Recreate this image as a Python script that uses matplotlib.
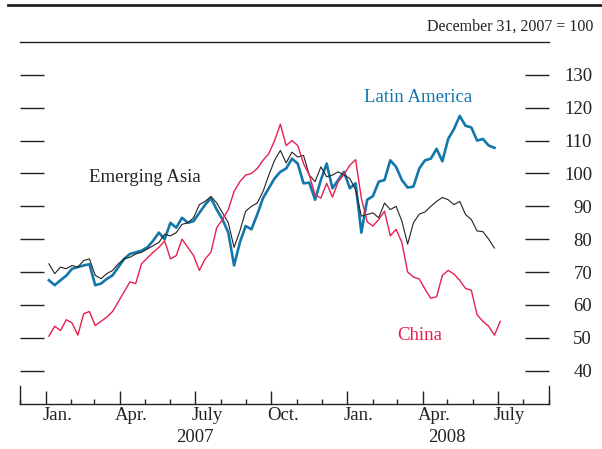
import matplotlib
matplotlib.use('Agg')
import matplotlib.pyplot as plt
import matplotlib.dates as mdates
import pandas as pd
from matplotlib.lines import Line2D
from matplotlib.transforms import blended_transform_factory

plt.rcParams['font.family'] = ['Liberation Serif', 'DejaVu Serif']

# weekly readings, index Dec 31, 2007 = 100
latin_america = [
    67.5, 66.0, 67.5, 68.9, 71.0, 71.5, 72.0, 72.4, 66.0, 66.5,
    67.9, 69.0, 71.5, 74.0, 75.5, 76.0, 76.5, 77.5, 79.5, 82.0,
    80.0, 85.0, 83.5, 86.5, 85.0, 85.5, 88.0, 90.5, 92.5, 89.0,
    86.0, 82.0, 72.0, 79.0, 84.0, 83.0, 87.5, 92.5, 95.5, 98.5,
    100.5, 101.5, 104.5, 103.0, 97.0, 97.2, 92.0, 98.0, 103.0, 95.5,
    98.0, 100.5, 95.5, 97.0, 82.0, 92.0, 93.1, 97.5, 98.0, 104.0,
    102.0, 98.0, 95.7, 96.0, 101.5, 104.0, 104.5, 107.5, 103.7, 110.5,
    113.5, 117.5, 114.5, 114.0, 110.0, 110.5, 108.5, 107.8,
]
emerging_asia = [
    72.5, 69.5, 71.5, 71.0, 72.0, 71.5, 73.5, 74.0, 69.0, 68.0,
    69.5, 70.5, 72.5, 74.0, 74.5, 75.5, 76.0, 77.0, 78.0, 79.0,
    81.5, 81.0, 82.0, 84.5, 85.0, 86.5, 90.5, 91.5, 93.0, 91.0,
    88.0, 85.0, 77.5, 82.5, 88.5, 90.0, 91.0, 94.5, 99.5, 104.0,
    107.0, 103.2, 106.5, 105.0, 105.5, 99.5, 97.5, 102.0, 99.0, 99.5,
    100.5, 99.5, 98.5, 95.0, 87.0, 87.5, 88.0, 86.5, 91.0, 89.0,
    90.0, 85.5, 78.5, 85.0, 87.6, 88.3, 90.0, 91.5, 92.7, 92.0,
    90.5, 91.5, 87.5, 86.0, 82.5, 82.3, 80.0, 77.3,
]
china = [
    50.5, 53.5, 52.2, 55.5, 54.5, 50.8, 57.3, 58.0, 53.7, 55.0,
    56.3, 58.0, 61.0, 64.0, 67.0, 66.5, 72.5, 74.3, 76.0, 77.5,
    79.5, 74.0, 75.0, 80.0, 77.5, 75.0, 70.5, 74.0, 76.0, 83.5,
    86.0, 89.0, 94.5, 97.5, 99.5, 100.0, 101.5, 104.0, 106.0, 110.0,
    115.0, 108.5, 110.0, 108.5, 103.0, 99.5, 93.5, 92.5, 97.0, 92.8,
    97.5, 99.7, 102.5, 104.2, 92.5, 85.3, 84.0, 86.0, 88.5, 81.0,
    83.0, 79.0, 70.0, 68.5, 67.9, 64.8, 62.0, 62.5, 69.0, 70.5,
    69.4, 67.5, 65.0, 64.5, 57.0, 55.0, 53.5, 50.8, 55.0,
]
weeks = pd.date_range('2007-01-05', periods=len(china), freq='7D')

month_ticks = ['2007-01-01', '2007-04-01', '2007-07-01', '2007-10-01',
               '2008-01-01', '2008-04-01', '2008-07-01']
month_labels = ['Jan.', 'Apr.', 'July', 'Oct.', 'Jan.', 'Apr.', 'July']
years = ['2007', '2008']
year_pos = ['2007-07-01', '2008-05-01']

BLUE = '#1277ab'
RED = '#e6204e'
INK = '#222222'

fig = plt.figure(figsize=(6.02, 4.49), dpi=100)
ax = fig.add_axes([20 / 602, 1 - 403.5 / 449, 529 / 602, 361.5 / 449])

ax.plot(weeks[:len(latin_america)], latin_america, color=BLUE, lw=1.9, zorder=3)
ax.plot(weeks[:len(emerging_asia)], emerging_asia, color=INK, lw=0.8, zorder=4)
ax.plot(weeks[:len(china)], china, color=RED, lw=1.0, zorder=5)

ax.set_xlim(pd.Timestamp('2006-12-01'), pd.Timestamp('2008-09-01'))
ax.set_ylim(30, 140)

for side in ['left', 'right']:
    ax.spines[side].set_bounds(30, 35.2)
for s in ax.spines.values():
    s.set_color(INK)
    s.set_linewidth(1.0)

ax.xaxis.set_major_locator(mdates.MonthLocator(bymonth=[1, 4, 7, 10]))
ax.xaxis.set_minor_locator(mdates.MonthLocator())
ax.tick_params(axis='x', which='major', direction='in', length=9.5, width=1,
               color=INK, labelbottom=False)
ax.tick_params(axis='x', which='minor', direction='in', length=3.6, width=1,
               color=INK)

ax.set_yticks(range(40, 131, 10))
ax.tick_params(axis='y', direction='in', length=17, width=1, color=INK,
               left=True, right=True, labelleft=False, labelright=True,
               pad=31, labelsize=13.5, labelcolor=INK)
for t in ax.yaxis.get_major_ticks():
    t.label2.set_horizontalalignment('right')

trans = blended_transform_factory(ax.transData, ax.transAxes)
for d, lab in zip(month_ticks, month_labels):
    ax.text(pd.Timestamp(d) + pd.Timedelta(days=14), -0.032, lab,
            transform=trans, ha='center', va='center', fontsize=13.5, color=INK)
for d, lab in zip(year_pos, years):
    ax.text(pd.Timestamp(d), -0.093, lab, transform=trans,
            ha='center', va='center', fontsize=13.5, color=INK)

ax.text(pd.Timestamp('2008-03-27'), 123, 'Latin America', color=BLUE,
        ha='center', va='center', fontsize=13.5)
ax.text(pd.Timestamp('2007-05-01'), 98.8, 'Emerging Asia', color=INK,
        ha='center', va='center', fontsize=13.5)
ax.text(pd.Timestamp('2008-03-29'), 50.6, 'China', color=RED,
        ha='center', va='center', fontsize=13.5)

fig.text(593 / 602, 1 - 27 / 449, 'December 31, 2007 = 100', ha='right',
         va='center', fontsize=11.5, color=INK)
fig.add_artist(Line2D([8 / 602, 1], [1 - 5 / 449, 1 - 5 / 449],
                      color=INK, lw=2.0))

fig.savefig('out.png', dpi=100)
